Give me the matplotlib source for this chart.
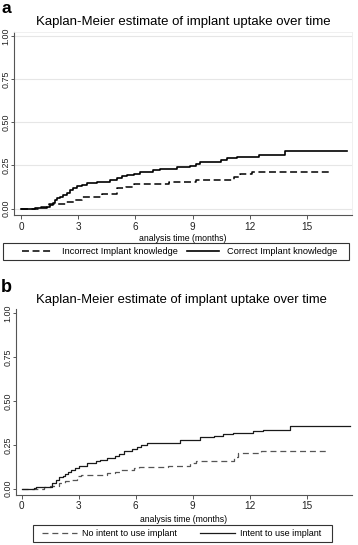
import matplotlib
matplotlib.use("Agg")
import matplotlib.pyplot as plt
from matplotlib.patches import Rectangle

plt.rcParams['font.family'] = ['Liberation Sans', 'DejaVu Sans']
plt.rcParams['lines.scale_dashes'] = False

# ---------------- data (months, cumulative proportion with implant) -------------
a_correct_t = [0, 0.72, 1.37, 1.52, 1.65, 1.78, 1.9, 2.04, 2.2, 2.4, 2.57, 2.75, 2.92, 3.2,
               3.45, 3.97, 4.67, 5.02, 5.3, 5.54, 5.9, 6.24, 6.9, 7.29, 8.16, 8.86, 9.2,
               9.39, 10.5, 10.79, 11.3, 12.5, 13.85, 17.08]
a_correct_v = [0, 0.006, 0.012, 0.021, 0.035, 0.05, 0.06, 0.069, 0.08, 0.092, 0.108, 0.12,
               0.133, 0.14, 0.147, 0.156, 0.166, 0.179, 0.187, 0.195, 0.203, 0.214, 0.224,
               0.229, 0.239, 0.249, 0.26, 0.272, 0.28, 0.291, 0.30, 0.312, 0.333, 0.333]

a_incorrect_t = [0, 1.05, 1.45, 2.35, 2.8, 3.2, 4.25, 5.05, 5.5, 5.9, 7.75, 9.2, 11.15,
                 11.5, 12.1, 16.2]
a_incorrect_v = [0, 0.012, 0.027, 0.04, 0.05, 0.069, 0.085, 0.12, 0.125, 0.141, 0.153,
                 0.164, 0.183, 0.198, 0.215, 0.215]

b_intent_t = [0, 0.65, 0.75, 1.35, 1.6, 1.8, 1.96, 2.15, 2.3, 2.45, 2.57, 2.8, 3.0, 3.44,
              3.9, 4.14, 4.5, 4.9, 5.1, 5.37, 5.8, 6.07, 6.3, 6.6, 7.64, 8.34, 8.86, 9.4,
              10.1, 10.6, 11.1, 12.2, 12.7, 14.1, 17.3]
b_intent_v = [0, 0.004, 0.008, 0.012, 0.03, 0.05, 0.065, 0.075, 0.084, 0.095, 0.107, 0.12,
              0.13, 0.145, 0.16, 0.164, 0.177, 0.187, 0.2, 0.212, 0.225, 0.24, 0.25, 0.26,
              0.263, 0.275, 0.279, 0.294, 0.298, 0.313, 0.319, 0.326, 0.336, 0.359, 0.359]

b_nointent_t = [0, 1.2, 1.5, 1.96, 2.3, 2.66, 2.9, 3.1, 4.5, 4.9, 5.2, 5.9, 6.2, 7.7, 8.86,
                9.2, 11.2, 11.4, 12.6, 16.1]
b_nointent_v = [0, 0.008, 0.015, 0.03, 0.042, 0.05, 0.073, 0.078, 0.088, 0.095, 0.107,
                0.116, 0.122, 0.132, 0.145, 0.158, 0.183, 0.202, 0.216, 0.216]

x_ticks = [0, 3, 6, 9, 12, 15]
y_ticks = [0.00, 0.25, 0.50, 0.75, 1.00]
title = "Kaplan-Meier estimate of implant uptake over time"
xlabel = "analysis time (months)"
labels_a = ["Incorrect Implant knowledge", "Correct Implant knowledge"]
labels_b = ["No intent to use implant", "Intent to use implant"]

# ---------------- figure ----------------
W, H = 358, 545
fig = plt.figure(figsize=(W / 100, H / 100), dpi=100)

def fx(px):
    return px / W

def fy(py):
    return 1 - py / H

axis_col = '#555555'

def style_axes(ax, grid):
    ax.set_xticks(x_ticks)
    ax.set_yticks(y_ticks)
    ax.set_yticklabels([f"{v:.2f}" for v in y_ticks], rotation=90, va='center',
                       fontsize=6.4, color='#222222')
    ax.set_xticklabels([str(v) for v in x_ticks], fontsize=7.2, color='#222222')
    ax.tick_params(axis='x', length=3, width=0.7, color=axis_col, pad=1.5)
    ax.tick_params(axis='y', length=2.4, width=0.7, color=axis_col, pad=0.2)
    ax.spines['left'].set_color(axis_col)
    ax.spines['bottom'].set_color(axis_col)
    ax.spines['left'].set_linewidth(0.8)
    ax.spines['bottom'].set_linewidth(0.8)
    if grid:
        ax.spines['top'].set_color('#eeeeee')
        ax.spines['right'].set_color('#eeeeee')
        ax.spines['top'].set_linewidth(0.6)
        ax.spines['right'].set_linewidth(0.6)
        for v in y_ticks:
            ax.axhline(v, color='#e6e6e6', lw=0.8, zorder=0)
    else:
        ax.spines['top'].set_visible(False)
        ax.spines['right'].set_visible(False)

# ---- panel a ----
axa_l, axa_r, axa_b, axa_t = 13.8, 351.7, 215.3, 32.3
axa = fig.add_axes([fx(axa_l), fy(axa_b), fx(axa_r - axa_l), (axa_b - axa_t) / H])
axa.set_xlim(-0.38, 17.34)
axa.set_ylim(-0.038, 1.02)
style_axes(axa, grid=True)
la1, = axa.step(a_incorrect_t, a_incorrect_v, where='post', color='black', lw=1.1,
                dashes=(5, 2.6))
la2, = axa.step(a_correct_t, a_correct_v, where='post', color='black', lw=1.2)
axa.set_xlabel(xlabel, fontsize=6.3, labelpad=1.5)
fig.text(fx(183.5), fy(22), title, fontsize=9.5, ha='center', va='center')
fig.text(fx(1), fy(1), 'a', fontsize=12.5, fontweight='bold', ha='left', va='top')

fs_a = 6.7
fig.legend([la1, la2], labels_a, ncol=2, loc='center left',
           bbox_to_anchor=(fx(21.7), fy(251.7)), bbox_transform=fig.transFigure,
           frameon=False, fontsize=fs_a, borderpad=0, borderaxespad=0,
           handlelength=3.4, handletextpad=0.9, columnspacing=1.05)
fig.add_artist(Rectangle((fx(3.3), fy(260)), fx(349.3 - 3.3), (260 - 243.3) / H,
                         transform=fig.transFigure, fill=False, edgecolor='#333333',
                         lw=0.8))

# ---- panel b ----
axb_l, axb_r, axb_b, axb_t = 16.0, 351.7, 495.0, 309.2
axb = fig.add_axes([fx(axb_l), fy(axb_b), fx(axb_r - axb_l), (axb_b - axb_t) / H])
axb.set_xlim(-0.30, 17.37)
axb.set_ylim(-0.036, 1.023)
style_axes(axb, grid=False)
lb1, = axb.step(b_nointent_t, b_nointent_v, where='post', color='#555555', lw=0.9,
                dashes=(4.3, 2.8))
lb2, = axb.step(b_intent_t, b_intent_v, where='post', color='#1a1a1a', lw=0.9)
axb.set_xlabel(xlabel, fontsize=6.2, labelpad=2.5)
fig.text(fx(181), fy(300), title, fontsize=9.4, ha='center', va='center')
fig.text(fx(1), fy(292), 'b', fontsize=13, fontweight='bold', ha='left', va='baseline')

fs_b = 6.5
fig.legend([lb1, lb2], labels_b, ncol=2, loc='center left',
           bbox_to_anchor=(fx(41.7), fy(533.5)), bbox_transform=fig.transFigure,
           frameon=False, fontsize=fs_b, borderpad=0, borderaxespad=0,
           handlelength=3.9, handletextpad=0.55, columnspacing=2.6)
fig.add_artist(Rectangle((fx(33), fy(542)), fx(332 - 33), (542 - 525) / H,
                         transform=fig.transFigure, fill=False, edgecolor='#333333',
                         lw=0.8))

fig.savefig('out.png', dpi=100)
